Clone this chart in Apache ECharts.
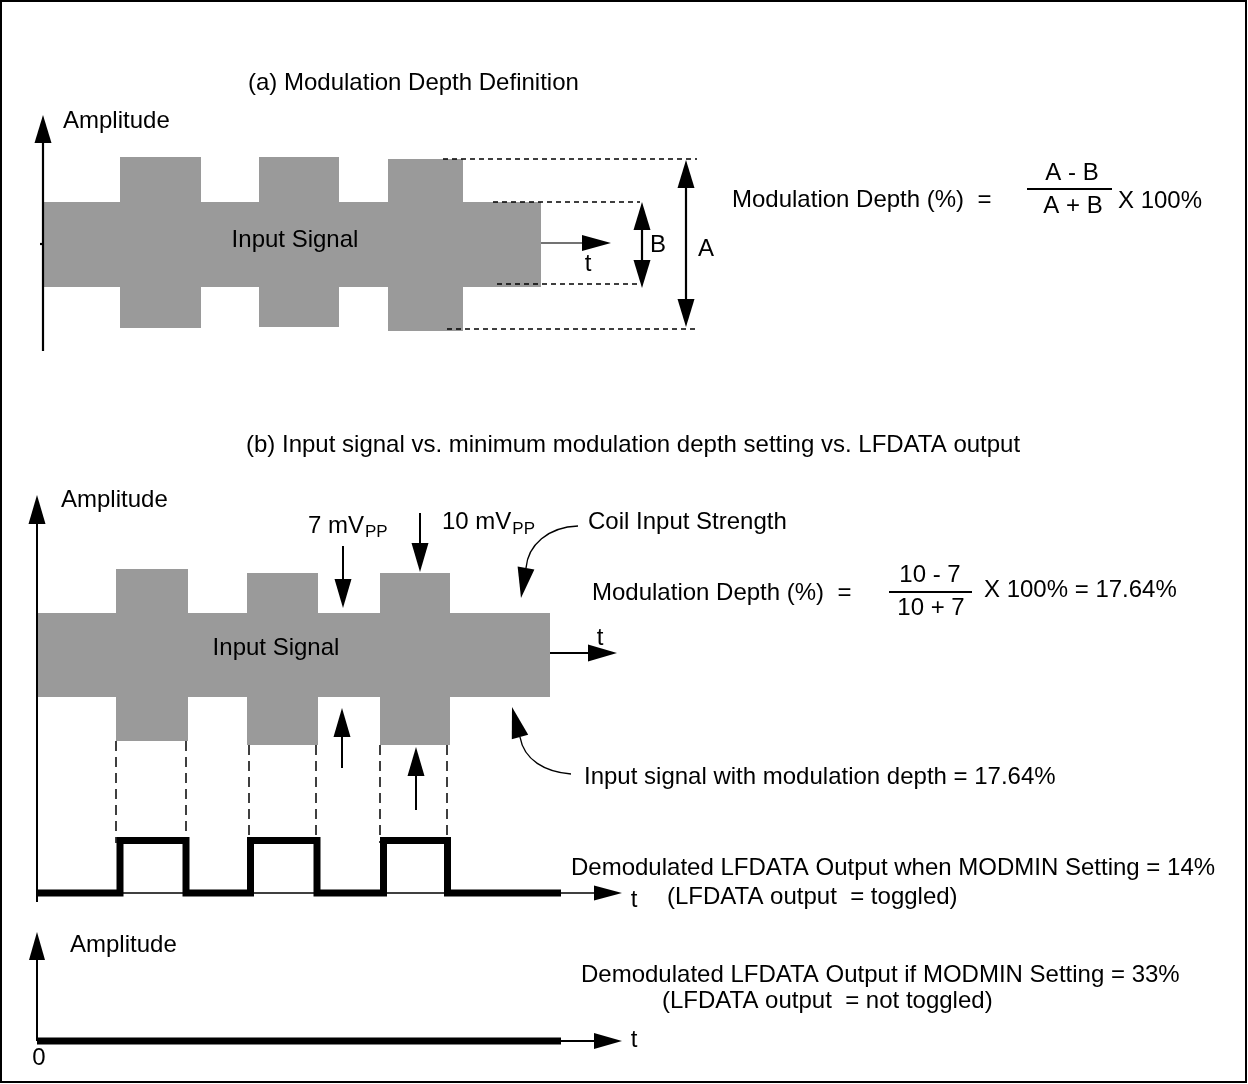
<!DOCTYPE html>
<html><head><meta charset="utf-8">
<script src="https://cdn.jsdelivr.net/npm/echarts@6/dist/echarts.min.js"></script>
<style>html,body{margin:0;padding:0;background:#fff}#c{width:1248px;height:1084px}</style>
</head><body><div id="c"></div>
<script>
// ---------- DATA (time units / amplitude units) ----------
// Panel (a): modulation depth definition — envelope edges in time, top/bottom amplitude per segment
const aEdges  = [0, 7.7, 15.8, 21.6, 29.6, 34.5, 42.0, 49.8];
const aTop    = [4.2, 8.7, 4.2, 8.7, 4.2, 8.5, 4.2];
const aBottom = [-4.3, -8.4, -4.3, -8.3, -4.3, -8.7, -4.3];
// Panel (b): input signal, 10 mVpp / 7 mVpp
const bEdges  = [0, 7.9, 15.1, 21.0, 28.1, 34.3, 41.3, 51.3];
const bTop    = [4.2, 8.6, 4.2, 8.2, 4.2, 8.2, 4.2];
const bBottom = [-4.2, -8.6, -4.2, -9.0, -4.2, -9.0, -4.2];
// Demodulated LFDATA output, MODMIN = 14% (toggled)
const cEdges  = [0, 8.3, 14.9, 21.35, 28.0, 34.65, 41.05, 52.4];
const cLevels = [0, 5.5, 0, 5.5, 0, 5.5, 0];
// Demodulated LFDATA output, MODMIN = 33% (not toggled)
const dEdges  = [0, 52.4];
const dLevels = [0];

// Annotation arrows: [x1, y1, x2, y2, headAtStart, headAtEnd]
const aArrows   = [[0, -10.7, 0, 12.9, 0, 1], [-0.3, 0, 0, 0, 0, 0], [59.9, 4.2, 59.9, -4.4, 1, 1], [64.3, 8.4, 64.3, -8.3, 1, 1]];
const aTArrow   = [[49.8, 0.1, 56.8, 0.1, 0, 1]];
const aGuides   = [[40, 8.5, 65.4, 8.5], [45, 4.2, 59.7, 4.2], [45.4, -4.0, 59.5, -4.0], [40.4, -8.5, 65.4, -8.5]];
const bArrows   = [[0, -24.7, 0, 16.0, 0, 1], [51.3, 0.2, 58.0, 0.2, 0, 1], [30.6, 10.9, 30.6, 4.7, 0, 1],
                   [38.3, 14.2, 38.3, 8.3, 0, 1], [30.5, -11.3, 30.5, -5.3, 0, 1], [37.9, -15.5, 37.9, -9.2, 0, 1]];
const bGuides   = [[7.9, -8.6, 7.9, -18.8], [14.9, -8.6, 14.9, -18.8], [21.2, -9.0, 21.2, -18.8],
                   [27.9, -9.0, 27.9, -18.8], [34.3, -9.0, 34.3, -18.8], [41.0, -9.0, 41.0, -18.8]];
const bCurves   = [[54.1, 12.9, 51.1, 12.8, 49.1, 11.0, 48.9, 8.7, 48.4, 5.7],
                   [53.4, -11.9, 50.8, -11.7, 48.7, -10.5, 48.3, -8.2, 47.5, -5.2]];
const cArrows   = [[0, 0, 58.5, 0, 0, 1]];
const dArrows   = [[0, 0, 58.5, 0, 0, 1], [0, 0, 0, 10.9, 0, 1]];

// ---------- helpers ----------
const FONT = '"Liberation Sans", Arial, Helvetica, sans-serif';
function segs(edges, tops, bottoms) {
  return tops.map((t, i) => [edges[i], edges[i + 1], t, bottoms[i]]);
}
function steps(edges, levels) {
  const pts = [];
  levels.forEach((l, i) => { pts.push([edges[i], l]); pts.push([edges[i + 1], l]); });
  return pts;
}
function base(g) { return { type: 'custom', coordinateSystem: 'cartesian2d', xAxisIndex: g, yAxisIndex: g, clip: false, silent: true }; }
function signalSeries(g, data) {
  return Object.assign(base(g), { data: data, z: 1,
    renderItem: function (p, api) {
      const a = api.coord([api.value(0), api.value(2)]);
      const b = api.coord([api.value(1), api.value(3)]);
      return { type: 'rect', shape: { x: a[0], y: a[1], width: b[0] - a[0], height: b[1] - a[1] }, style: { fill: '#9a9a9a' } };
    } });
}
function headShape(tip, ux, uy, L, W) {
  const nx = -uy, ny = ux, bx = tip[0] - ux * L, by = tip[1] - uy * L;
  return { type: 'polygon', shape: { points: [tip, [bx + nx * W / 2, by + ny * W / 2], [bx - nx * W / 2, by - ny * W / 2]] }, style: { fill: '#000' } };
}
function arrowSeries(g, data, L, W, lw, color) {
  return Object.assign(base(g), { data: data, z: 5,
    renderItem: function (p, api) {
      const p1 = api.coord([api.value(0), api.value(1)]);
      const p2 = api.coord([api.value(2), api.value(3)]);
      const hs = api.value(4), he = api.value(5);
      const dx = p2[0] - p1[0], dy = p2[1] - p1[1], len = Math.hypot(dx, dy) || 1;
      const ux = dx / len, uy = dy / len;
      let s = p1, e = p2;
      const ch = [];
      if (he) { ch.push(headShape(p2, ux, uy, L, W)); e = [p2[0] - ux * (L - 2), p2[1] - uy * (L - 2)]; }
      if (hs) { ch.push(headShape(p1, -ux, -uy, L, W)); s = [p1[0] + ux * (L - 2), p1[1] + uy * (L - 2)]; }
      ch.unshift({ type: 'line', shape: { x1: s[0], y1: s[1], x2: e[0], y2: e[1] }, style: { stroke: color, lineWidth: lw } });
      return { type: 'group', children: ch };
    } });
}
function guideSeries(g, data, dash, lw) {
  return Object.assign(base(g), { data: data, z: 4,
    renderItem: function (p, api) {
      const p1 = api.coord([api.value(0), api.value(1)]);
      const p2 = api.coord([api.value(2), api.value(3)]);
      return { type: 'line', shape: { x1: p1[0], y1: p1[1], x2: p2[0], y2: p2[1] }, style: { stroke: '#000', lineWidth: lw, lineDash: dash } };
    } });
}
function curveSeries(g, data) {
  return Object.assign(base(g), { data: data, z: 5,
    renderItem: function (p, api) {
      const q = [0, 1, 2, 3, 4].map(i => api.coord([api.value(2 * i), api.value(2 * i + 1)]));
      const dx = q[4][0] - q[3][0], dy = q[4][1] - q[3][1], len = Math.hypot(dx, dy) || 1;
      return { type: 'group', children: [
        { type: 'bezierCurve', shape: { x1: q[0][0], y1: q[0][1], cpx1: q[1][0], cpy1: q[1][1], cpx2: q[2][0], cpy2: q[2][1], x2: q[3][0], y2: q[3][1] },
          style: { stroke: '#000', lineWidth: 1.4, fill: null } },
        headShape(q[4], dx / len, dy / len, len, 17)
      ] };
    } });
}
function stepSeries(g, pts) {
  return { type: 'line', xAxisIndex: g, yAxisIndex: g, data: pts, symbol: 'none', silent: true, z: 6,
    lineStyle: { color: '#000', width: 7, cap: 'butt', join: 'miter' } };
}

// ---------- text measuring for subscripts ----------
const mctx = document.createElement('canvas').getContext('2d');
function tw(s, size) { mctx.font = size + 'px ' + FONT; return mctx.measureText(s).width; }
function txt(s, x, y, align, size) {
  return { type: 'text', x: x, y: y, z: 10, silent: true,
    style: { text: s, font: (size || 24) + 'px ' + FONT, fill: '#000', align: align || 'left', verticalAlign: 'middle' } };
}

const graphics = [
  { type: 'rect', z: 20, silent: true, shape: { x: 1, y: 1, width: 1245, height: 1081 }, style: { fill: null, stroke: '#000', lineWidth: 2 } },
  // panel (a)
  txt('(a) Modulation Depth Definition', 248, 83),
  txt('Amplitude', 63, 121),
  txt('Input Signal', 295, 240, 'center'),
  txt('t', 588, 264, 'center'),
  txt('B', 658, 245, 'center'),
  txt('A', 706, 249, 'center'),
  txt('Modulation Depth (%)  =', 732, 200),
  txt('A - B', 1072, 173, 'center'),
  { type: 'line', silent: true, shape: { x1: 1027, y1: 189, x2: 1112, y2: 189 }, style: { stroke: '#000', lineWidth: 2 } },
  txt('A + B', 1073, 206, 'center'),
  txt('X 100%', 1118, 201),
  // panel (b)
  txt('(b) Input signal vs. minimum modulation depth setting vs. LFDATA output', 246, 445),
  txt('Amplitude', 61, 500),
  txt('Input Signal', 276, 648, 'center'),
  txt('7 mV', 308, 526),
  txt('PP', 308 + tw('7 mV', 24) + 1, 532, 'left', 17),
  txt('10 mV', 442, 522),
  txt('PP', 442 + tw('10 mV', 24) + 1, 529, 'left', 17),
  txt('Coil Input Strength', 588, 522),
  txt('Modulation Depth (%)  =', 592, 593),
  txt('10 - 7', 930, 575, 'center'),
  { type: 'line', silent: true, shape: { x1: 889, y1: 592, x2: 972, y2: 592 }, style: { stroke: '#000', lineWidth: 2 } },
  txt('10 + 7', 931, 608, 'center'),
  txt('X 100% = 17.64%', 984, 590),
  txt('t', 600, 638, 'center'),
  txt('Input signal with modulation depth = 17.64%', 584, 777),
  txt('Demodulated LFDATA Output when MODMIN Setting = 14%', 571, 868),
  txt('(LFDATA output  = toggled)', 667, 897),
  txt('t', 634, 900, 'center'),
  // lower panel
  txt('Amplitude', 70, 945),
  txt('Demodulated LFDATA Output if MODMIN Setting = 33%', 581, 975),
  txt('(LFDATA output  = not toggled)', 662, 1001),
  txt('t', 634, 1040, 'center'),
  txt('0', 39, 1058, 'center')
];

function axisPair(n) {
  const xs = [], ys = [];
  for (let i = 0; i < n.length; i++) {
    xs.push({ type: 'value', gridIndex: i, min: 0, max: 80, show: false });
    ys.push({ type: 'value', gridIndex: i, min: n[i][0], max: n[i][1], show: false });
  }
  return [xs, ys];
}
const [xAxes, yAxes] = axisPair([[-20, 20], [-30, 20], [-20, 20], [-4, 20]]);

const chart = echarts.init(document.getElementById('c'), null, { renderer: 'canvas' });
chart.setOption({
  animation: false,
  backgroundColor: '#ffffff',
  grid: [
    { left: 43, top: 44, width: 800, height: 400 },
    { left: 37, top: 455, width: 800, height: 500 },
    { left: 37, top: 702, width: 800, height: 400 },
    { left: 37, top: 841, width: 800, height: 240 }
  ],
  xAxis: xAxes,
  yAxis: yAxes,
  series: [
    signalSeries(0, segs(aEdges, aTop, aBottom)),
    guideSeries(0, aGuides, [5, 4], 1.5),
    arrowSeries(0, aArrows, 28, 17, 2.2, '#000'),
    arrowSeries(0, aTArrow, 29, 16, 1.3, '#444'),
    signalSeries(1, segs(bEdges, bTop, bBottom)),
    guideSeries(1, bGuides, [10, 6], 1.5),
    arrowSeries(1, bArrows, 29, 17, 2, '#000'),
    curveSeries(1, bCurves),
    arrowSeries(2, cArrows, 28, 15, 1.5, '#000'),
    stepSeries(2, steps(cEdges, cLevels)),
    arrowSeries(3, dArrows, 28, 16, 2, '#000'),
    stepSeries(3, steps(dEdges, dLevels))
  ],
  graphic: graphics
});
</script></body></html>
